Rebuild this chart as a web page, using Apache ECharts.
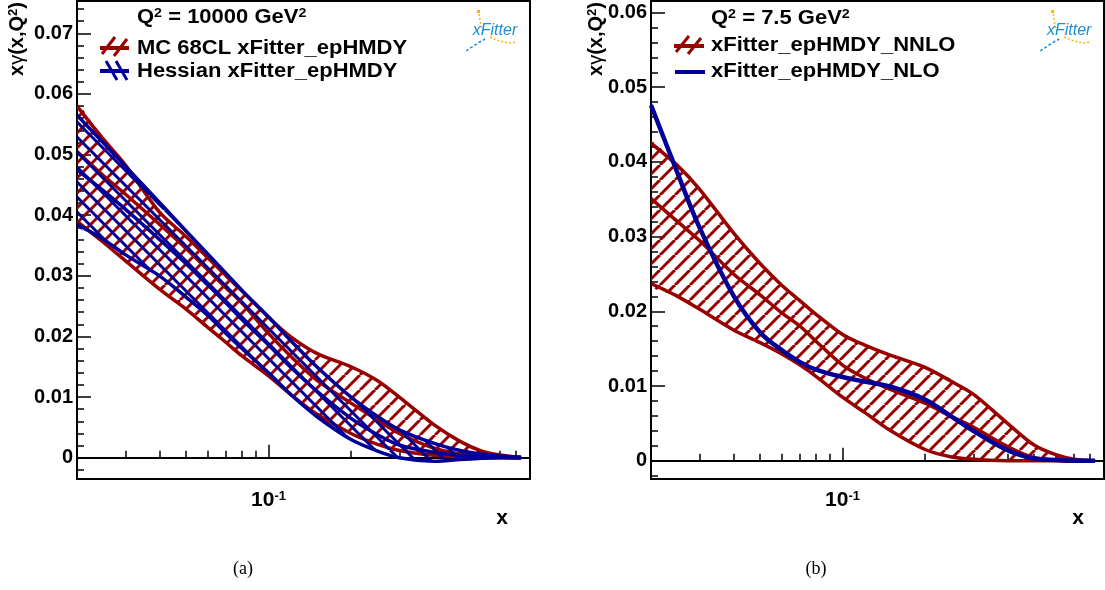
<!DOCTYPE html>
<html><head><meta charset="utf-8">
<script src="https://cdn.jsdelivr.net/npm/echarts@6/dist/echarts.min.js"></script>
<style>html,body{margin:0;padding:0;background:#fff}#c{width:1105px;height:590px}</style>
</head><body><div id="c"></div>
<script>
// ---------- data ----------
const xGrid = [0.02,0.025,0.03,0.04,0.05,0.06,0.07,0.08,0.1,0.12,0.15,0.2,0.25,0.3,0.4,0.5,0.6,0.7,0.835];
// panel (a) Q2 = 10000 GeV2
const mcUpA  = [0.058,0.0525,0.0483,0.0405,0.0365,0.0330,0.0300,0.0275,0.0232,0.0200,0.0172,0.0150,0.0127,0.0100,0.0055,0.0027,0.0011,0.00045,0.0];
const mcCenA = [0.0505,0.0465,0.0435,0.0385,0.0345,0.0310,0.0280,0.0255,0.0205,0.0168,0.0128,0.0090,0.0062,0.0040,0.0016,0.0006,0.0002,0.0001,0.0];
const mcLoA  = [0.039,0.0355,0.0325,0.0278,0.0245,0.0215,0.0190,0.0168,0.0135,0.0105,0.0072,0.0040,0.0022,0.0012,0.0004,0.0001,0.0,0.0,0.0];
const heUpA  = [0.0565,0.0519,0.0481,0.0421,0.0374,0.0336,0.0304,0.0276,0.0232,0.0194,0.0150,0.0100,0.0068,0.0046,0.0024,0.0012,0.0006,0.0003,0.0001];
const heCenA = [0.0475,0.0440,0.0410,0.0360,0.0320,0.0285,0.0255,0.0228,0.0186,0.0150,0.0110,0.0065,0.0038,0.0021,0.0009,0.0004,0.0002,0.0001,0.0];
const heLoA  = [0.0385,0.0360,0.0335,0.0300,0.0265,0.0235,0.0205,0.0180,0.0140,0.0105,0.0068,0.0030,0.0011,0.0000,-0.0006,-0.0003,-0.0001,0.0,0.0];
// panel (b) Q2 = 7.5 GeV2
const nnloUpB  = [0.0425,0.0395,0.0364,0.0305,0.0264,0.0235,0.0214,0.0196,0.0169,0.0155,0.0141,0.0125,0.0106,0.0089,0.0050,0.0021,0.0008,0.0002,0.0];
const nnloCenB = [0.0351,0.0320,0.0295,0.0250,0.0222,0.0198,0.0180,0.0160,0.0128,0.0111,0.0095,0.0077,0.0059,0.0045,0.0019,0.0004,0.0001,0.0,0.0];
const nnloLoB  = [0.0237,0.0220,0.0203,0.0175,0.0158,0.0143,0.0128,0.0113,0.0085,0.0065,0.0040,0.0015,0.0005,0.0002,0.0,0.0,0.0,0.0,0.0];
const nloB     = [0.0476,0.0385,0.0313,0.0221,0.0172,0.0148,0.0132,0.0122,0.0112,0.0106,0.0099,0.0082,0.0059,0.0040,0.0014,0.0003,0.0001,0.0,0.0];
// ticks
const xMajorTicks = [0.1];
const xMinorTicks = [0.03,0.04,0.05,0.06,0.07,0.08,0.09,0.2,0.3,0.4,0.5,0.6,0.7,0.8];
const yMajorA = [0,0.01,0.02,0.03,0.04,0.05,0.06,0.07];
const yMinorA = [-0.002,0.002,0.004,0.006,0.008,0.012,0.014,0.016,0.018,0.022,0.024,0.026,0.028,0.032,0.034,0.036,0.038,0.042,0.044,0.046,0.048,0.052,0.054,0.056,0.058,0.062,0.064,0.066,0.068,0.072,0.074];
const yMajorB = [0,0.01,0.02,0.03,0.04,0.05,0.06];
const yMinorB = [-0.002,0.002,0.004,0.006,0.008,0.012,0.014,0.016,0.018,0.022,0.024,0.026,0.028,0.032,0.034,0.036,0.038,0.042,0.044,0.046,0.048,0.052,0.054,0.056,0.058];
const names = ['MC 68CL xFitter_epHMDY','Hessian xFitter_epHMDY','xFitter_epHMDY_NNLO','xFitter_epHMDY_NLO'];

// ---------- style ----------
const RED = '#990000', BLUE = '#000099';
const FONT = 'Liberation Sans';
const SMOOTH = 0.3;
function hatch(color, dir, s, lw) {
  const c = document.createElement('canvas'); c.width = s; c.height = s;
  const g = c.getContext('2d'); g.strokeStyle = color; g.lineWidth = lw;
  for (let k = -1; k <= 1; k++) {
    g.beginPath();
    if (dir > 0) { g.moveTo(k*s, s); g.lineTo(k*s + s, 0); }
    else { g.moveTo(k*s, 0); g.lineTo(k*s + s, s); }
    g.stroke();
  }
  return c;
}
const redHatch = hatch(RED, 1, 15, 3);
const blueHatch = hatch(BLUE, -1, 15, 3);
const pts = (xs, ys) => xs.map((x, i) => [x, ys[i]]);

// one custom series per band: hatched fill + upper / central / lower curves
function band(name, up, cen, lo, color, pat, ax, lw) {
  return {type:'custom', name, xAxisIndex: ax, yAxisIndex: ax, clip: true, silent: true,
    encode: {x: 0, y: [1, 2, 3]},
    data: xGrid.map((x, i) => [x, up[i], cen[i], lo[i]]),
    renderItem(params, api) {
      if (params.dataIndexInside !== 0) return null;
      const n = params.dataInsideLength, top = [], mid = [], bot = [];
      for (let i = 0; i < n; i++) {
        const xv = api.value(0, i);
        top.push(api.coord([xv, api.value(1, i)]));
        mid.push(api.coord([xv, api.value(2, i)]));
        bot.push(api.coord([xv, api.value(3, i)]));
      }
      const ln = p => ({type:'polyline', shape:{points: p, smooth: SMOOTH},
        style:{stroke: color, lineWidth: lw, fill: null, lineJoin:'round'}});
      return {type:'group', children: [
        {type:'polygon', shape:{points: top.concat(bot.slice().reverse()), smooth: SMOOTH},
          style:{fill:{image: pat, repeat:'repeat'}, stroke: null}},
        ln(bot), ln(mid), ln(top)
      ]};
    }};
}
function lineS(name, ys, color, lw, ax, smooth) {
  return {type:'line', name, xAxisIndex: ax, yAxisIndex: ax, symbol:'none', smooth: smooth || false, silent: true,
    data: pts(xGrid, ys), lineStyle:{color, width: lw, join:'round'}};
}

const labelFont = {fontFamily: FONT, fontWeight: 'bold', fontSize: 20, color: '#000'};
function xAxes(gi) {
  return [
    {type:'log', logBase:10, gridIndex: gi, position:'bottom', min: 0.02, max: 0.9,
      axisLine:{show:true, lineStyle:{color:'#000', width:2}},
      axisTick:{show:true, inside:true, length:13, lineStyle:{color:'#000', width:1.5}, customValues: xMajorTicks},
      axisLabel:{show:true, margin: 11, customValues: xMajorTicks, formatter: () => '{b|10}{s|-1}',
        rich:{b:Object.assign({}, labelFont, {fontSize: 21}), s:Object.assign({}, labelFont, {fontSize: 13, verticalAlign:'top'})}},
      splitLine:{show:false}, minorTick:{show:false}},
    {type:'log', logBase:10, gridIndex: gi, position:'bottom', offset: 0, min: 0.02, max: 0.9,
      axisLine:{show:false},
      axisTick:{show:true, inside:true, length:7, lineStyle:{color:'#000', width:1.5}, customValues: xMinorTicks},
      axisLabel:{show:false}, splitLine:{show:false}}
  ];
}
function yAxes(gi, mn, mx, major, minor) {
  return [
    {type:'value', gridIndex: gi, position:'left', min: mn, max: mx,
      axisLine:{show:true, lineStyle:{color:'#000', width:2}},
      axisTick:{show:true, inside:true, length:14, lineStyle:{color:'#000', width:1.5}, customValues: major},
      axisLabel:Object.assign({show:true, margin: 4, customValues: major, formatter: v => v === 0 ? '0' : v.toFixed(2)}, labelFont),
      splitLine:{show:false}},
    {type:'value', gridIndex: gi, position:'left', offset: 0, min: mn, max: mx,
      axisLine:{show:false},
      axisTick:{show:true, inside:true, length:7, lineStyle:{color:'#000', width:1.5}, customValues: minor},
      axisLabel:{show:false}, splitLine:{show:false}}
  ];
}

// ---------- graphics (titles, legends, labels, logos) ----------
const tFont = {fontFamily: FONT, fontWeight:'bold', fontSize: 20, fill:'#000'};
const richSet = {a: Object.assign({}, tFont), s: Object.assign({}, tFont, {fontSize: 13, verticalAlign:'top', lineHeight: 14}),
                 g: Object.assign({}, tFont, {fontWeight:'normal'})};
function richText(x, y, text) {
  return {type:'text', x, y, z: 100, scaleX: 1.1,
    style:{text, x:0, y:0, verticalAlign:'middle', align:'left', rich: richSet}};
}
function yTitle(x) {
  return {type:'text', x, y: 2, z: 100, rotation: Math.PI/2,
    style:{text:'{a|x}{g|γ}{a|(x,Q}{s|2}{a|)}', align:'right', verticalAlign:'middle', rich: richSet}};
}
function seg(x1, y1, x2, y2, color, w) {
  return {type:'line', z: 100, shape:{x1, y1, x2, y2}, style:{stroke: color, lineWidth: w}};
}
function logo(dx) {
  return {type:'group', x: dx, y: 0, z: 100, children: [
    {type:'rect', shape:{x:477, y:10, width:3, height:3}, style:{fill:'#f5b400'}},
    {type:'polyline', shape:{points:[[479,14],[480,20],[481,26],[483,31]]}, style:{stroke:'#f5b400', lineWidth:1.5, lineDash:[2,2], fill:null}},
    {type:'polyline', shape:{points:[[490,37],[497,40],[504,42],[511,43],[516,42]]}, style:{stroke:'#f5b400', lineWidth:1.5, lineDash:[2,2], fill:null}},
    {type:'polyline', shape:{points:[[466,51],[472,47],[478,43],[485,39]]}, style:{stroke:'#1b8fd6', lineWidth:1.5, lineDash:[3,2], fill:null}},
    {type:'text', x: 495, y: 31, style:{text:'xFitter', fontFamily: FONT, fontStyle:'italic', fontSize: 16, fill:'#1b8fd6', align:'center', verticalAlign:'middle'}}
  ]};
}
const DX = 574.2;
const graphics = [
  richText(137, 17, '{a|Q}{s|2}{a| = 10000 GeV}{s|2}'),
  richText(711, 18, '{a|Q}{s|2}{a| = 7.5 GeV}{s|2}'),
  richText(137, 48, '{a|' + names[0] + '}'),
  richText(137, 71, '{a|' + names[1] + '}'),
  richText(711, 45, '{a|' + names[2] + '}'),
  richText(711, 71, '{a|' + names[3] + '}'),
  seg(100, 48, 129, 48, RED, 4), seg(102, 54, 115, 37, RED, 3), seg(114, 56, 127, 39, RED, 3),
  seg(100, 71, 129, 71, BLUE, 4), seg(106, 61, 117, 80, BLUE, 3), seg(116, 61, 127, 80, BLUE, 3),
  seg(674, 46, 704, 46, RED, 4), seg(676, 52, 689, 36, RED, 3), seg(688, 54, 701, 38, RED, 3),
  seg(675, 72, 705, 72, BLUE, 4),
  yTitle(17), yTitle(596),
  {type:'text', x: 502, y: 518, z: 100, style:{text:'x', fontFamily: FONT, fontWeight:'bold', fontSize: 21, fill:'#000', align:'center', verticalAlign:'middle'}},
  {type:'text', x: 1078, y: 518, z: 100, style:{text:'x', fontFamily: FONT, fontWeight:'bold', fontSize: 21, fill:'#000', align:'center', verticalAlign:'middle'}},
  {type:'text', x: 243, y: 569, z: 100, style:{text:'(a)', fontFamily:'Liberation Serif', fontSize: 18, fill:'#000', align:'center', verticalAlign:'middle'}},
  {type:'text', x: 816, y: 569, z: 100, style:{text:'(b)', fontFamily:'Liberation Serif', fontSize: 18, fill:'#000', align:'center', verticalAlign:'middle'}},
  logo(0), logo(DX)
];

const chart = echarts.init(document.getElementById('c'), null, {renderer:'canvas'});
chart.setOption({
  animation: false,
  backgroundColor: '#fff',
  grid: [
    {left: 77, top: 1, width: 453, height: 478, show: true, borderColor:'#000', borderWidth: 2, backgroundColor:'transparent'},
    {left: 651, top: 1, width: 453, height: 478, show: true, borderColor:'#000', borderWidth: 2, backgroundColor:'transparent'}
  ],
  xAxis: xAxes(0).concat(xAxes(1)),
  yAxis: yAxes(0, -0.00351, 0.07533, yMajorA, yMinorA).concat(yAxes(1, -0.00245, 0.06154, yMajorB, yMinorB)),
  graphic: graphics,
  series: [
    band(names[0], mcUpA, mcCenA, mcLoA, RED, redHatch, 0, 3.5),
    band(names[1], heUpA, heCenA, heLoA, BLUE, blueHatch, 0, 3.5),
    band(names[2], nnloUpB, nnloCenB, nnloLoB, RED, redHatch, 2, 3.5),
    lineS(names[3], nloB, BLUE, 4.5, 2, 0.4)
  ]
});
</script></body></html>
